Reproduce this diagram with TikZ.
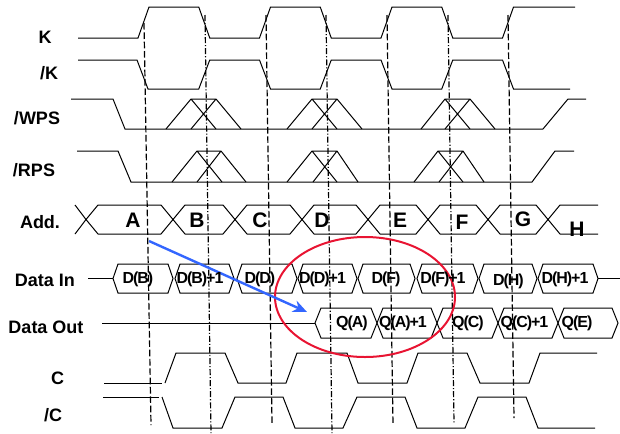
\documentclass[tikz,border=0pt]{standalone}
\usepackage{fontspec}
\setmainfont{Liberation Sans}
\newfontfamily\cellfont[LetterSpace=-6.5]{Liberation Sans}
\usetikzlibrary{arrows.meta}

\begin{document}
\begin{tikzpicture}[x=0.75pt,y=0.75pt,yscale=-1,xscale=1,
  wave/.style={line width=0.75pt},
  tickdash/.style={line width=0.9pt,dash pattern=on 5pt off 2pt},
  tickdot/.style={line width=0.9pt,dash pattern=on 4.5pt off 1.5pt on 0.8pt off 1.5pt},
  lbl/.style={font=\fontsize{13.5}{16}\selectfont\bfseries,inner sep=0.75pt},
  addr/.style={font=\fontsize{15.75}{18}\selectfont\bfseries,inner sep=0.75pt},
  cell/.style={font=\cellfont\fontsize{12}{14}\selectfont\bfseries,inner sep=0.75pt}]
\path [use as bounding box] (0,0) rectangle (620,433); %set diagram 620 wide, 433 high

%Shape: K
\draw [wave] (78,38) -- (138,38) -- (149,7) -- (198.75,7) -- (209.75,38) -- (259.5,38) -- (270.5,7) -- (320.25,7) -- (331.25,38) -- (381,38) -- (392,7) -- (441.75,7) -- (452.75,38) -- (502.5,38) -- (513.5,7) -- (575,7) ;
%Shape: /K
\draw [wave] (78,60) -- (137,60) -- (148,89) -- (198.75,89) -- (209.75,60) -- (259.5,60) -- (270.5,89) -- (320.25,89) -- (331.25,60) -- (381,60) -- (392,89) -- (441.75,89) -- (452.75,60) -- (502.5,60) -- (513.5,89) -- (570,89) ;

%Shape: /WPS
\draw [wave] (71,99) -- (113,99) -- (125,129) -- (543,129) -- (568,99) -- (586,99) ;
\draw [wave] (166,129) -- (191,99) -- (216,99) -- (241,129) (191,99) -- (216,129) (191,129) -- (216,99) ;
\draw [wave] (287,129) -- (312,99) -- (337,99) -- (362,129) (312,99) -- (337,129) (312,129) -- (337,99) ;
\draw [wave] (421,129) -- (445,99) -- (470,99) -- (495,129) (445,99) -- (470,129) (445,129) -- (470,99) ;
%Shape: /RPS
\draw [wave] (77,151) -- (118,151) -- (131,182) -- (532,182) -- (555,151) -- (574,151) ;
\draw [wave] (172,182) -- (197,151) -- (221,151) -- (246,182) (197,151) -- (222,182) (197,182) -- (221,151) ;
\draw [wave] (287,182) -- (312,151) -- (337,151) -- (358,182) (312,151) -- (337,182) (313,182) -- (337,151) ;
\draw [wave] (414,182) -- (438,151) -- (463,151) -- (484,182) (438,151) -- (463,182) (439,182) -- (463,151) ;

%Shape: Add.
\draw [wave] (75,205) -- (86,219.5) -- (75,234) ;
\draw [wave] (86,219.5) -- (98,205) -- (161,205) -- (173,219.5) -- (161,234) -- (98,234) -- cycle ;
\draw [wave] (173,219.5) -- (185,205) -- (223,205) -- (235,219.5) -- (223,234) -- (185,234) -- cycle ;
\draw [wave] (235,219.5) -- (247,205) -- (290,205) -- (302,219.5) -- (290,234) -- (247,234) -- cycle ;
\draw [wave] (302,219.5) -- (314,205) -- (356,205) -- (368,219.5) -- (356,234) -- (314,234) -- cycle ;
\draw [wave] (368,219.5) -- (380,205) -- (416,205) -- (428,219.5) -- (416,234) -- (380,234) -- cycle ;
\draw [wave] (428,219.5) -- (440,205) -- (476,205) -- (488,219.5) -- (476,234) -- (440,234) -- cycle ;
\draw [wave] (488,219.5) -- (500,205) -- (536,205) -- (548,219.5) -- (536,234) -- (500,234) -- cycle ;
\draw [wave] (598,205) -- (560,205) -- (548,219.5) -- (560,234) -- (598,234) ;

%Shape: Data In
\draw [wave] (88,278.5) -- (113,278.5) (598,278.5) -- (620,278.5) ;
\draw [wave] (113,278.5) -- (118,264) -- (168,264) -- (173,278.5) -- (168,293) -- (118,293) -- cycle ;
\draw [wave] (175,278.5) -- (180,264) -- (229,264) -- (234,278.5) -- (229,293) -- (180,293) -- cycle ;
\draw [wave] (237,278.5) -- (242,264) -- (292,264) -- (297,278.5) -- (292,293) -- (242,293) -- cycle ;
\draw [wave] (298,278.5) -- (303,264) -- (352,264) -- (357,278.5) -- (352,293) -- (303,293) -- cycle ;
\draw [wave] (358,278.5) -- (363,264) -- (410,264) -- (415,278.5) -- (410,293) -- (363,293) -- cycle ;
\draw [wave] (417,278.5) -- (422,264) -- (473,264) -- (478,278.5) -- (473,293) -- (422,293) -- cycle ;
\draw [wave] (479,278.5) -- (484,264) -- (532,264) -- (537,278.5) -- (532,293) -- (484,293) -- cycle ;
\draw [wave] (538,278.5) -- (543,264) -- (593,264) -- (598,278.5) -- (593,293) -- (543,293) -- cycle ;

%Shape: Data Out
\draw [wave] (102,323) -- (315,323) ;
\draw [wave] (315,323) -- (321,308) -- (371,308) -- (377,323) -- (371,338) -- (321,338) -- cycle ;
\draw [wave] (377,323) -- (383,308) -- (431,308) -- (437,323) -- (431,338) -- (383,338) -- cycle ;
\draw [wave] (437,323) -- (443,308) -- (492,308) -- (498,323) -- (492,338) -- (443,338) -- cycle ;
\draw [wave] (498,323) -- (504,308) -- (552,308) -- (558,323) -- (552,338) -- (504,338) -- cycle ;
\draw [wave] (558,323) -- (564,308) -- (612,308) -- (618,323) -- (612,338) -- (564,338) -- cycle ;

%Shape: C
\draw [wave] (104,383) -- (162,383) ;
\draw [wave] (165,383) -- (176,353) -- (225,353) -- (238,383) -- (286,383) -- (297,353) -- (347,353) -- (358,383) -- (407,383) -- (418,353) -- (467,353) -- (480,383) -- (529,383) -- (540,353) -- (597,353) ;
%Shape: /C
\draw [wave] (103,397) -- (159,397) ;
\draw [wave] (162,397) -- (173,428) -- (222,428) -- (235,397) -- (283,397) -- (295,428) -- (343,428) -- (357,397) -- (405,397) -- (417,428) -- (465,428) -- (478,397) -- (526,397) -- (538,428) -- (595,428) ;

%Straight Lines: clock edges
\draw [tickdash] (144,23) -- (151,425) ;
\draw [tickdot] (205,15) -- (211,433) ;
\draw [tickdash] (266,15) -- (272,423) ;
\draw [tickdot] (326,15) -- (332,433) ;
\draw [tickdash] (387,15) -- (393,425) ;
\draw [tickdot] (448,15) -- (454,423) ;
\draw [tickdash] (508,15) -- (514,418) ;

%Shape: Ellipse
\draw [color={rgb, 255:red, 232; green, 20; blue, 50 },line width=1.5pt] (365,297) ellipse [x radius=90, y radius=60] ;
%Straight Lines: arrow
\coordinate (arrS) at (149,241) ;
\coordinate (arrE) at (307,312) ;
\draw [color={rgb, 255:red, 51; green, 102; blue, 255 },line width=1.8pt,-{Stealth[length=10.5pt,width=9pt]}] (arrS) -- (arrE) ;

% Text Node
\node [lbl] (lblK) at (45,37) {K};
\node [lbl] (lblKn) at (49,73) {/K};
\node [lbl] (lblWPS) at (37,118) {/WPS};
\node [lbl] (lblRPS) at (34,170) {/RPS};
\node [lbl] (lblAdd) at (40,222) {Add.};
\node [lbl] (lblDin) at (45,280) {Data In};
\node [lbl] (lblDout) at (46,327) {Data Out};
\node [lbl] (lblC) at (57.5,378) {C};
\node [lbl] (lblCn) at (53,415) {/C};
% Text Node
\node [addr] (adA) at (133,220) {A};
\node [addr] (adB) at (197,220) {B};
\node [addr] (adC) at (260,220) {C};
\node [addr] (adD) at (322,220) {D};
\node [addr] (adE) at (400,220) {E};
\node [addr] (adF) at (462,222) {F};
\node [addr] (adG) at (523,219) {G};
\node [addr] (adH) at (577,229) {H};
% Text Node
\node [cell] (inB) at (138,279) {D(B)};
\node [cell] (inBp) at (200,279) {D(B)+1};
\node [cell] (inD) at (260,279) {D(D)};
\node [cell] (inDp) at (322.5,279) {D(D)+1};
\node [cell] (inF) at (386,279) {D(F)};
\node [cell] (inFp) at (443,279) {D(F)+1};
\node [cell] (inH) at (508.5,281) {D(H)};
\node [cell] (inHp) at (565,279) {D(H)+1};
% Text Node
\node [cell] (outA) at (352,323) {Q(A)};
\node [cell] (outAp) at (403,323) {Q(A)+1};
\node [cell] (outC) at (468,323) {Q(C)};
\node [cell] (outCp) at (524.5,323) {Q(C)+1};
\node [cell] (outE) at (577,323) {Q(E)};

\end{tikzpicture}
\end{document}
